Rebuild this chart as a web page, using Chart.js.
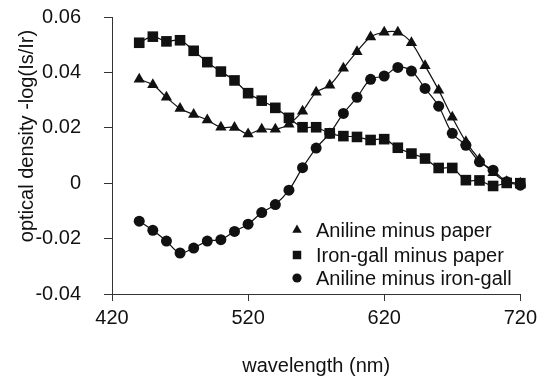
<!DOCTYPE html>
<html lang="en">
<head>
  <meta charset="UTF-8">
  <title>Optical density spectra</title>
  <script src="https://cdn.jsdelivr.net/npm/chart.js"></script>
  <style>
    html, body { margin: 0; padding: 0; background: #fff; }
    #wrap { width: 542px; height: 380px; }
  </style>
</head>
<body>

<div id="wrap">
  <canvas id="odChart" width="542" height="380"></canvas>
</div>

<script>
  // wavelengths (nm)
  const wavelengths = [440, 450, 460, 470, 480, 490, 500, 510, 520, 530, 540, 550, 560, 570, 580,
                       590, 600, 610, 620, 630, 640, 650, 660, 670, 680, 690, 700, 710, 720];

  const anilineMinusPaper = [0.0375, 0.0355, 0.031, 0.027, 0.0248, 0.0228, 0.0202, 0.0201, 0.0178, 0.0195,
                             0.0195, 0.0213, 0.026, 0.0328, 0.0354, 0.0415, 0.0475, 0.0528, 0.0545, 0.0545,
                             0.0507, 0.0424, 0.0336, 0.0238, 0.015, 0.0086, 0.0038, 0.0005, 0.0];

  const ironGallMinusPaper = [0.0507, 0.0529, 0.0512, 0.0516, 0.0478, 0.0437, 0.0403, 0.0371, 0.0325, 0.0298,
                              0.0272, 0.0236, 0.0202, 0.0202, 0.018, 0.017, 0.0167, 0.0156, 0.0159, 0.0128,
                              0.0107, 0.0089, 0.0055, 0.0055, 0.0011, 0.001, -0.001, 0.0001, 0.0];

  const anilineMinusIronGall = [-0.0137, -0.017, -0.0209, -0.0252, -0.0234, -0.0209, -0.0204, -0.0174, -0.0148, -0.0106,
                                -0.0077, -0.0025, 0.0056, 0.0127, 0.018, 0.0252, 0.031, 0.0375, 0.0387, 0.0418,
                                0.0405, 0.0342, 0.0278, 0.018, 0.0137, 0.0077, 0.0047, 0.0005, -0.0007];

  const seriesNames = ["Aniline minus paper", "Iron-gall minus paper", "Aniline minus iron-gall"];
  const yTicks = [-0.04, -0.02, 0, 0.02, 0.04, 0.06];
  const xTicks = [420, 520, 620, 720];
  const yTitle = "optical density -log(Is/Ir)";
  const xTitle = "wavelength (nm)";

  const FONT = '"Liberation Sans", Arial, sans-serif';
  const INK = "#111";

  function toPoints(values) {
    return wavelengths.map((w, i) => ({ x: w, y: values[i] }));
  }

  function series(label, values, style, radius) {
    return {
      label: label,
      data: toPoints(values),
      borderColor: INK,
      borderWidth: 1.2,
      backgroundColor: INK,
      pointStyle: style,
      pointRadius: radius,
      pointBorderWidth: 0,
      pointBackgroundColor: INK,
      tension: 0.35,
      fill: false,
      clip: false
    };
  }

  // y title sits a bit above centre in the original, so draw it by hand
  const yTitlePlugin = {
    id: "yTitle",
    afterDraw(chart) {
      const ctx = chart.ctx;
      ctx.save();
      ctx.translate(27, 136);
      ctx.rotate(-Math.PI / 2);
      ctx.font = "20px " + FONT;
      ctx.fillStyle = INK;
      ctx.textAlign = "center";
      ctx.textBaseline = "middle";
      ctx.fillText(yTitle, 0, 0);
      ctx.restore();
    }
  };

  // legend inside the plot, lower right
  const insideLegend = {
    id: "insideLegend",
    afterDraw(chart) {
      const ctx = chart.ctx;
      const rows = [230, 255, 278];
      const sizes = [5.5, 6, 4.6];
      ctx.save();
      ctx.font = "20px " + FONT;
      ctx.textBaseline = "middle";
      chart.data.datasets.forEach((ds, i) => {
        ctx.fillStyle = INK;
        ctx.strokeStyle = INK;
        Chart.helpers.drawPoint(ctx, { pointStyle: ds.pointStyle, radius: sizes[i], borderWidth: 0 }, 297, rows[i]);
        ctx.fillStyle = INK;
        ctx.fillText(ds.label, 316, rows[i] + 1);
      });
      ctx.restore();
    }
  };

  new Chart(document.getElementById("odChart").getContext("2d"), {
    type: "line",
    data: {
      datasets: [
        series(seriesNames[0], anilineMinusPaper, "triangle", 6.5),
        series(seriesNames[1], ironGallMinusPaper, "rect", 7.5),
        series(seriesNames[2], anilineMinusIronGall, "circle", 5.5)
      ]
    },
    options: {
      responsive: false,
      animation: false,
      layout: { padding: { top: 0, right: 19, left: 0, bottom: 0 } },
      plugins: {
        legend: { display: false },
        tooltip: { enabled: false }
      },
      scales: {
        x: {
          type: "linear",
          min: 420,
          max: 720,
          afterBuildTicks: (scale) => { scale.ticks = xTicks.map(v => ({ value: v })); },
          afterFit: (scale) => { scale.height = 86; },
          ticks: { color: INK, font: { family: FONT, size: 20 }, padding: 5, maxRotation: 0 },
          grid: { display: true, drawOnChartArea: false, drawTicks: true, tickLength: 7, color: "#333" },
          border: { display: true, color: "#333", width: 1 },
          title: { display: true, text: xTitle, color: INK, font: { family: FONT, size: 20 }, padding: { top: 0, bottom: 2 } }
        },
        y: {
          min: -0.04,
          max: 0.06,
          afterBuildTicks: (scale) => { scale.ticks = yTicks.map(v => ({ value: v })); },
          afterFit: (scale) => {
            scale.width = 112;
            scale.paddingTop = 17;
            scale.paddingBottom = 0;
          },
          ticks: {
            color: INK,
            font: { family: FONT, size: 20 },
            padding: 23,
            callback: (v) => (v === 0 ? "0" : String(Math.round(v * 100) / 100))
          },
          grid: { display: true, drawOnChartArea: false, drawTicks: true, tickLength: 8, color: "#333" },
          border: { display: true, color: "#333", width: 1 }
        }
      }
    },
    plugins: [yTitlePlugin, insideLegend]
  });
</script>

</body>
</html>
